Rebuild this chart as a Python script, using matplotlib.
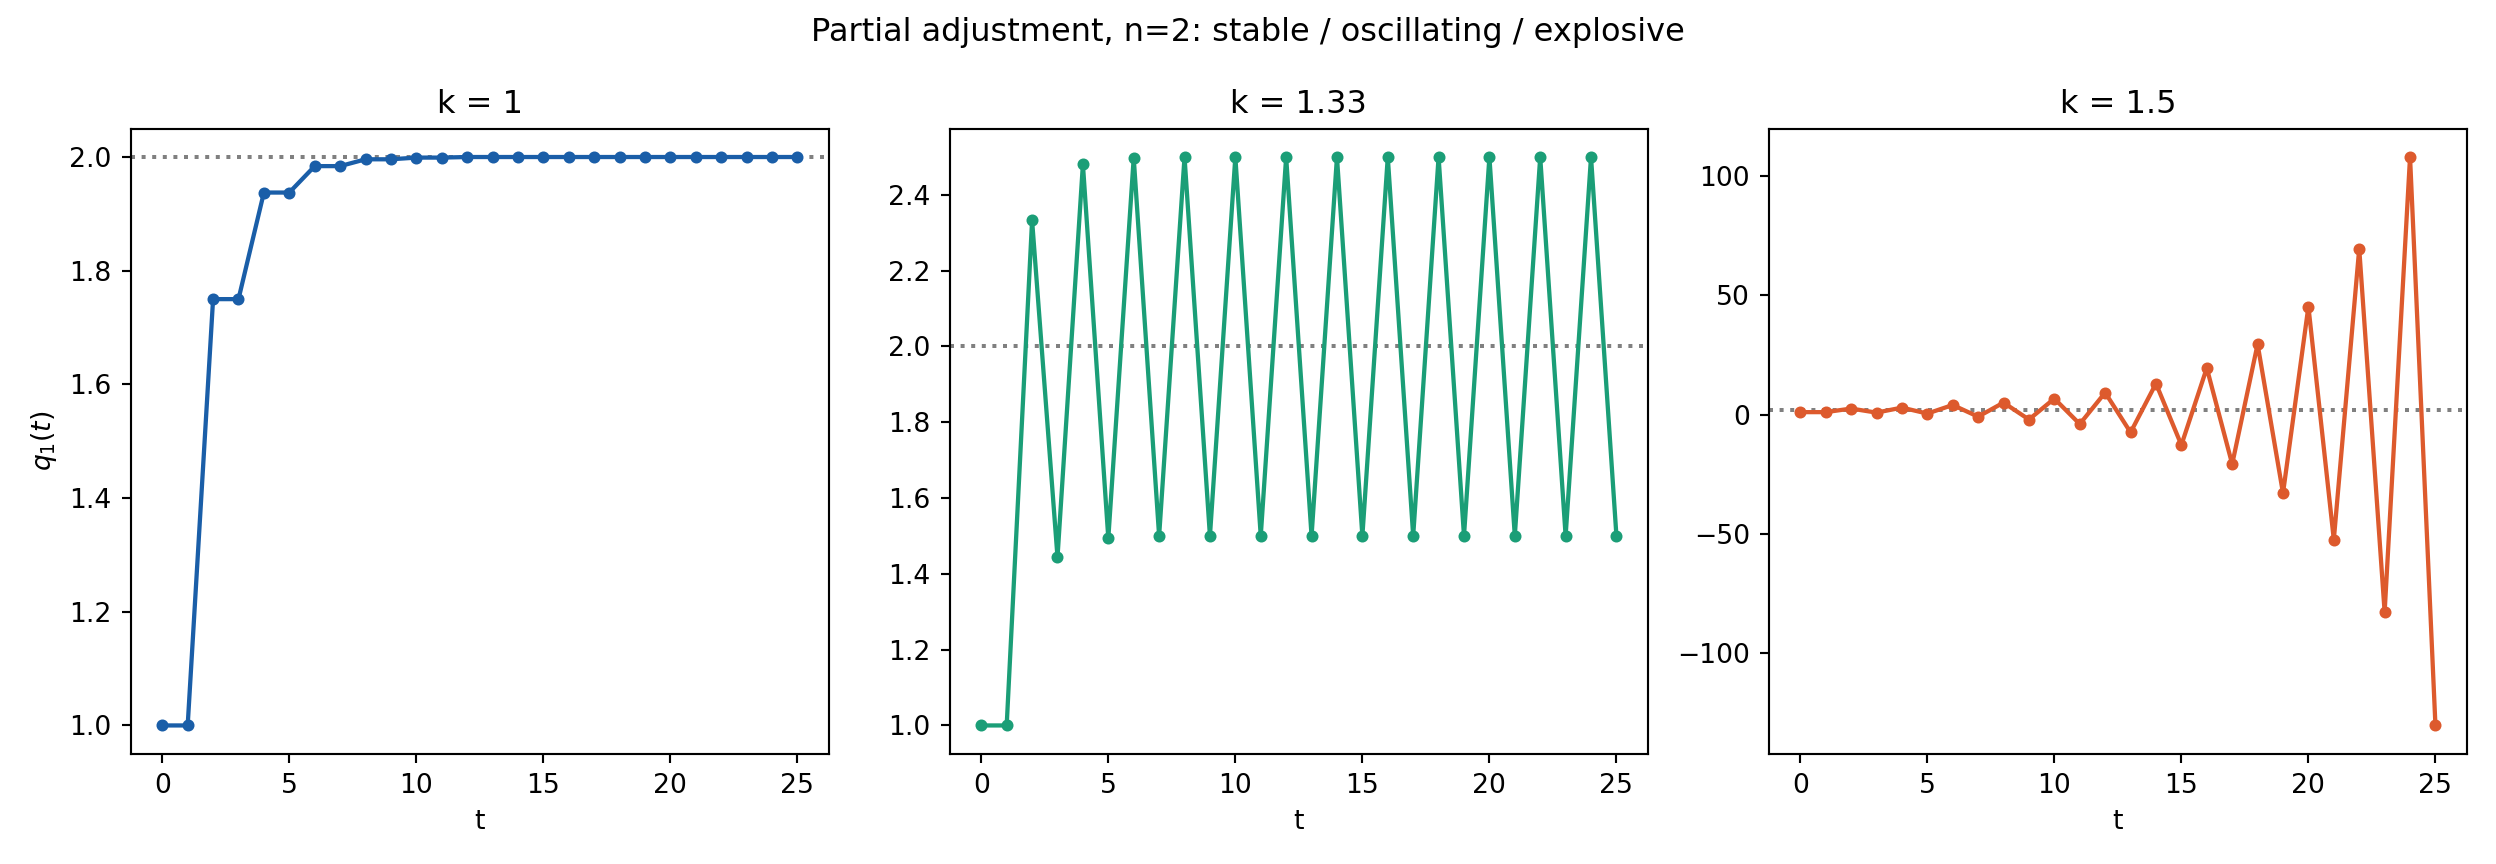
import matplotlib
matplotlib.use("Agg")
import matplotlib.pyplot as plt

t = list(range(26))

q_stable = [1.0, 1.0, 1.75, 1.75, 1.9375, 1.9375, 1.984, 1.984, 1.996, 1.996,
            1.999, 1.999, 2.0, 2.0, 2.0, 2.0, 2.0, 2.0, 2.0, 2.0,
            2.0, 2.0, 2.0, 2.0, 2.0, 2.0]
q_osc = [1.0, 1.0, 2.333, 1.444, 2.481, 1.494, 2.498, 1.5, 2.5, 1.5,
         2.5, 1.5, 2.5, 1.5, 2.5, 1.5, 2.5, 1.5, 2.5, 1.5,
         2.5, 1.5, 2.5, 1.5, 2.5, 1.5]
q_expl = [1.0, 1.0, 2.5, 0.8, 2.9, 0.4, 4.0, -0.9, 5.0, -2.1,
          6.7, -4.0, 9.2, -7.5, 13.0, -12.8, 19.5, -20.8, 29.5, -33.0,
          45.3, -52.5, 69.6, -82.9, 108.0, -130.4]

equilibrium = 2.0
titles = ["k = 1", "k = 1.33", "k = 1.5"]
series = [q_stable, q_osc, q_expl]
colors = ["#1a5ea8", "#1b9e77", "#dd5a2d"]

fig, axes = plt.subplots(1, 3, figsize=(13, 4.5), dpi=192)

for ax, title, q, c in zip(axes, titles, series, colors):
    ax.axhline(equilibrium, color="grey", linestyle=":", linewidth=1.5)
    ax.plot(t, q, marker="o", markersize=3.5, linewidth=1.6, color=c)
    ax.set_title(title)
    ax.set_xlabel("t")

axes[0].set_ylabel("$q_1(t)$")
fig.suptitle("Partial adjustment, n=2: stable / oscillating / explosive")

fig.tight_layout()
fig.savefig("out.png", dpi=192)
